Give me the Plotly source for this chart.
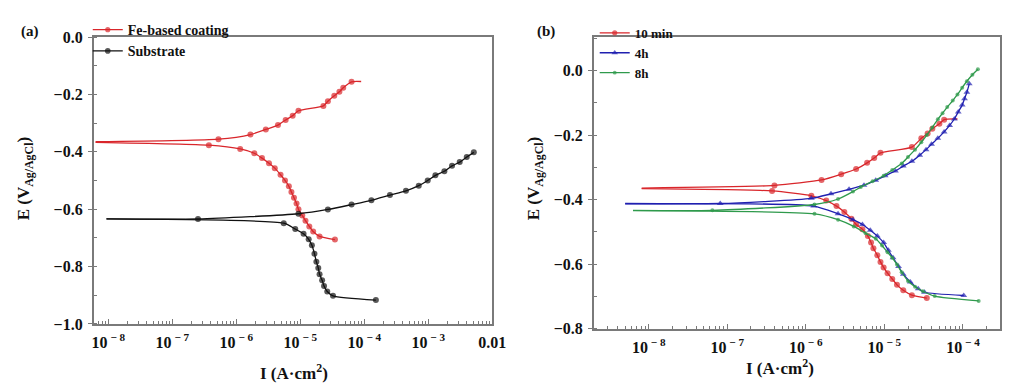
import plotly.graph_objects as go

# ---------------- Panel (a) data: log10(I / A·cm^-2), E (V vs Ag/AgCl) ----------------
coat_an_logi = [-8.2, -6.28, -5.78, -5.54, -5.35, -5.23, -5.12, -5.03, -4.64, -4.57, -4.47, -4.39, -4.33, -4.2, -4.05]
coat_an_e = [-0.365, -0.356, -0.34, -0.322, -0.307, -0.289, -0.274, -0.257, -0.24, -0.224, -0.205, -0.191, -0.177, -0.156, -0.155]
coat_ca_logi = [-8.2, -6.43, -5.94, -5.72, -5.6, -5.49, -5.4, -5.31, -5.24, -5.18, -5.14, -5.1, -5.06, -5.03, -4.97, -4.92, -4.86, -4.8, -4.7, -4.46]
coat_ca_e = [-0.367, -0.377, -0.39, -0.405, -0.422, -0.44, -0.457, -0.48, -0.5, -0.52, -0.54, -0.56, -0.58, -0.6, -0.622, -0.64, -0.66, -0.678, -0.695, -0.706]

sub_an_logi = [-8.03, -6.6, -5.03, -4.57, -4.2, -3.89, -3.6, -3.35, -3.15, -3.01, -2.89, -2.75, -2.63, -2.51, -2.4, -2.29]
sub_an_e = [-0.634, -0.634, -0.616, -0.601, -0.584, -0.569, -0.551, -0.536, -0.518, -0.5, -0.482, -0.468, -0.449, -0.436, -0.418, -0.402]
sub_ca_logi = [-8.03, -5.26, -5.08, -4.95, -4.87, -4.82, -4.78, -4.75, -4.72, -4.7, -4.66, -4.63, -4.58, -4.49, -3.82]
sub_ca_e = [-0.634, -0.649, -0.669, -0.686, -0.705, -0.726, -0.755, -0.783, -0.805, -0.827, -0.848, -0.868, -0.887, -0.902, -0.917]

# ---------------- Panel (b) data ----------------
m10_an_logi = [-8.09, -6.4, -5.8, -5.55, -5.36, -5.22, -5.13, -5.05, -4.65, -4.53, -4.45, -4.39, -4.3, -4.24, -4.07]
m10_an_e = [-0.364, -0.356, -0.339, -0.321, -0.305, -0.286, -0.271, -0.255, -0.237, -0.21, -0.195, -0.18, -0.165, -0.152, -0.15]
m10_ca_logi = [-8.09, -6.43, -5.93, -5.74, -5.61, -5.51, -5.42, -5.36, -5.28, -5.21, -5.17, -5.14, -5.09, -5.05, -5.01, -4.96, -4.9, -4.84, -4.76, -4.65, -4.46]
m10_ca_e = [-0.366, -0.373, -0.388, -0.403, -0.42, -0.438, -0.459, -0.477, -0.492, -0.513, -0.533, -0.551, -0.572, -0.593, -0.61, -0.628, -0.646, -0.664, -0.681, -0.696, -0.705]

h4_an_logi = [-8.3, -7.09, -5.93, -5.68, -5.45, -5.26, -5.11, -4.99, -4.86, -4.76, -4.65, -4.55, -4.47, -4.4, -4.32, -4.24, -4.17, -4.11, -4.06, -4.01, -3.98, -3.95, -3.92]
h4_an_e = [-0.412, -0.412, -0.396, -0.382, -0.368, -0.355, -0.34, -0.326, -0.311, -0.296, -0.281, -0.262, -0.245, -0.228, -0.21, -0.19, -0.17, -0.15, -0.128, -0.107, -0.087, -0.067, -0.041]
h4_ca_logi = [-8.3, -5.9, -5.59, -5.4, -5.28, -5.18, -5.09, -5.01, -4.95, -4.89, -4.82, -4.76, -4.67, -4.57, -4.49, -3.99]
h4_ca_e = [-0.413, -0.42, -0.444, -0.462, -0.477, -0.495, -0.513, -0.533, -0.557, -0.58, -0.607, -0.631, -0.655, -0.676, -0.687, -0.697]

h8_an_logi = [-8.2, -7.19, -5.89, -5.59, -5.4, -5.3, -5.15, -5.01, -4.9, -4.78, -4.7, -4.61, -4.53, -4.46, -4.39, -4.32, -4.26, -4.2, -4.13, -4.07, -4.01, -3.95, -3.88, -3.81]
h8_an_e = [-0.433, -0.433, -0.415, -0.398, -0.375, -0.361, -0.343, -0.326, -0.308, -0.288, -0.268, -0.245, -0.222, -0.2, -0.176, -0.151, -0.132, -0.113, -0.093, -0.074, -0.053, -0.033, -0.013, 0.004]
h8_ca_logi = [-8.2, -5.89, -5.59, -5.39, -5.24, -5.11, -5.03, -4.96, -4.9, -4.84, -4.78, -4.7, -4.61, -4.51, -4.36, -3.8]
h8_ca_e = [-0.434, -0.444, -0.462, -0.483, -0.504, -0.521, -0.542, -0.563, -0.58, -0.601, -0.625, -0.652, -0.67, -0.684, -0.699, -0.714]

# ticks
xa_tickvals = [1e-8, 1e-7, 1e-6, 1e-5, 1e-4, 1e-3, 1e-2]
xa_ticktext = ["10<sup> − 8</sup>", "10<sup> − 7</sup>", "10<sup> − 6</sup>", "10<sup> − 5</sup>",
               "10<sup> − 4</sup>", "10<sup> − 3</sup>", "0.01"]
xb_tickvals = [1e-8, 1e-7, 1e-6, 1e-5, 1e-4]
xb_ticktext = ["10<sup> − 8</sup>", "10<sup> − 7</sup>", "10<sup> − 6</sup>", "10<sup> − 5</sup>", "10<sup> − 4</sup>"]
ya_tickvals = [0.0, -0.2, -0.4, -0.6, -0.8, -1.0]
ya_ticktext = ["0.0", "−0.2", "−0.4", "−0.6", "−0.8", "−1.0"]
yb_tickvals = [0.0, -0.2, -0.4, -0.6, -0.8]
yb_ticktext = ["0.0", "−0.2", "−0.4", "−0.6", "−0.8"]

RED = "#d9262b"
BLACK = "#111111"
BLUE = "#2020b0"
GREEN = "#2f9a4c"
FONT = "Liberation Serif"

fig = go.Figure()


def add_branch(logi, e, name, color, symbol, size, xaxis, yaxis, legend, show, start_marker=False, end_marker=True):
    sizes = [size] * len(logi)
    if not start_marker:
        sizes[0] = 0
    if not end_marker:
        sizes[-1] = 0
    fig.add_trace(go.Scatter(
        x=[10 ** v for v in logi], y=e, mode="lines+markers", name=name,
        line=dict(color=color, width=1.3, shape="spline", smoothing=0.6),
        marker=dict(color=color, symbol=symbol, size=sizes, line=dict(width=0)),
        xaxis=xaxis, yaxis=yaxis, legend=legend, legendgroup=legend + name,
        showlegend=show,
    ))


# panel (a)
add_branch(coat_an_logi, coat_an_e, "Fe-based coating", RED, "circle", 6, "x", "y", "legend", True, end_marker=False)
add_branch(coat_ca_logi, coat_ca_e, "Fe-based coating", RED, "circle", 6, "x", "y", "legend", False)
add_branch(sub_an_logi, sub_an_e, "Substrate", BLACK, "circle", 6, "x", "y", "legend", True)
add_branch(sub_ca_logi, sub_ca_e, "Substrate", BLACK, "circle", 6, "x", "y", "legend", False)

# panel (b)
add_branch(m10_an_logi, m10_an_e, "10 min", RED, "circle", 6, "x2", "y2", "legend2", True, end_marker=False)
add_branch(m10_ca_logi, m10_ca_e, "10 min", RED, "circle", 6, "x2", "y2", "legend2", False)
add_branch(h4_an_logi, h4_an_e, "4h", BLUE, "triangle-up", 6, "x2", "y2", "legend2", True)
add_branch(h4_ca_logi, h4_ca_e, "4h", BLUE, "triangle-up", 6, "x2", "y2", "legend2", False)
add_branch(h8_an_logi, h8_an_e, "8h", GREEN, "circle", 4, "x2", "y2", "legend2", True)
add_branch(h8_ca_logi, h8_ca_e, "8h", GREEN, "circle", 4, "x2", "y2", "legend2", False)

W, H = 1024, 389
AXC = "#7a7a7a"
tickfont = dict(family=FONT, size=16, color="#111111", weight="bold")

common_x = dict(type="log", showgrid=False, zeroline=False, showline=True, linecolor=AXC, linewidth=1.5,
                mirror=True, ticks="inside", ticklen=5, tickcolor=AXC, tickwidth=1,
                minor=dict(ticks="inside", ticklen=3, tickcolor=AXC, dtick="D1", showgrid=False),
                tickfont=tickfont, ticklabelstandoff=3)
common_y = dict(showgrid=False, zeroline=False, showline=True, linecolor=AXC, linewidth=1.5,
                mirror=True, ticks="outside", ticklen=4, tickcolor=AXC, tickwidth=1,
                minor=dict(ticks="inside", ticklen=4, tickcolor=AXC, dtick=0.1, showgrid=False),
                tickfont=tickfont, ticklabelstandoff=2)

legfont = dict(family=FONT, size=14, color="#111111", weight="bold")
fig.update_layout(
    width=W, height=H, margin=dict(l=0, r=0, t=0, b=0),
    paper_bgcolor="white", plot_bgcolor="white",
    font=dict(family=FONT, color="#111111"),
    xaxis=dict(domain=[85 / W, 490 / W], range=[-8.23, -2.0], tickvals=xa_tickvals, ticktext=xa_ticktext,
               anchor="y", **common_x),
    yaxis=dict(domain=[1 - 322 / H, 1 - 22 / H], range=[-1.0, 0.0], tickvals=ya_tickvals, ticktext=ya_ticktext,
               anchor="x", **common_y),
    xaxis2=dict(domain=[593 / W, 1006 / W], range=[-8.7, -3.525], tickvals=xb_tickvals, ticktext=xb_ticktext,
                anchor="y2", **common_x),
    yaxis2=dict(domain=[1 - 327 / H, 1 - 22 / H], range=[-0.8, 0.104], tickvals=yb_tickvals, ticktext=yb_ticktext,
                anchor="x2", **common_y),
    legend=dict(x=79 / W, y=1 + 2 / H, xanchor="left", yanchor="top", bgcolor="rgba(0,0,0,0)",
                font=legfont, itemwidth=30, tracegroupgap=0, traceorder="normal"),
    legend2=dict(x=594 / W, y=1 - 2 / H, xanchor="left", yanchor="top", bgcolor="rgba(0,0,0,0)",
                 font=dict(family=FONT, size=13, color="#111111", weight="bold"), itemwidth=30,
                 tracegroupgap=0, traceorder="normal"),
)

ann_font = dict(family=FONT, size=15, color="#111111", weight="bold")
fig.add_annotation(text="(a)", x=20 / W, y=1 - 16 / H, xref="paper", yref="paper", showarrow=False,
                   font=ann_font, xanchor="center", yanchor="middle")
fig.add_annotation(text="(b)", x=545 / W, y=1 - 16 / H, xref="paper", yref="paper", showarrow=False,
                   font=ann_font, xanchor="center", yanchor="middle")
fig.add_annotation(text="E (V<sub>Ag/AgCl</sub>)", x=15 / W, y=1 - 170 / H, xref="paper", yref="paper",
                   showarrow=False, textangle=-90, font=dict(family=FONT, size=17, color="#111111", weight="bold"),
                   xanchor="center", yanchor="middle")
fig.add_annotation(text="E (V<sub>Ag/AgCl</sub>)", x=533 / W, y=1 - 170 / H, xref="paper", yref="paper",
                   showarrow=False, textangle=-90, font=dict(family=FONT, size=17, color="#111111", weight="bold"),
                   xanchor="center", yanchor="middle")
fig.add_annotation(text="I (A·cm<sup>2</sup>)", x=289 / W, y=1 - 372 / H, xref="paper", yref="paper",
                   showarrow=False, font=dict(family=FONT, size=17, color="#111111", weight="bold"),
                   xanchor="center", yanchor="middle")
fig.add_annotation(text="I (A·cm<sup>2</sup>)", x=782 / W, y=1 - 367 / H, xref="paper", yref="paper",
                   showarrow=False, font=dict(family=FONT, size=17, color="#111111", weight="bold"),
                   xanchor="center", yanchor="middle")

fig.write_html("out.html")
